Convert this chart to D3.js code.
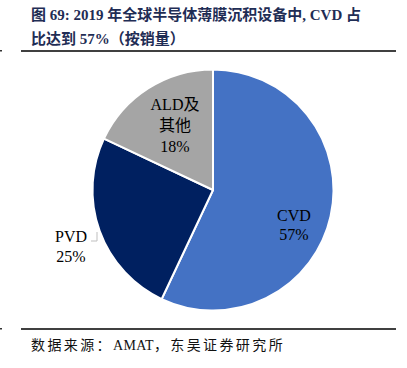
<!DOCTYPE html>
<html><head><meta charset="utf-8">
<script src="https://cdn.jsdelivr.net/npm/d3@7/dist/d3.min.js"></script>
<style>
html,body{margin:0;padding:0;background:#fff;}
svg{display:block;}
</style></head>
<body>
<svg id="c" width="407" height="368"></svg>
<script>
const categories = ["CVD", "PVD", "ALD及其他"];
const values = [57, 25, 18];
const colors = ["#4472C4", "#002060", "#A5A5A5"];
const labelLines = [["CVD", "57%"], ["PVD", "25%"], ["ALD及", "其他", "18%"]];
const titleLines = ["图 69: 2019 年全球半导体薄膜沉积设备中, CVD 占", "比达到 57%（按销量）"];
const sourceText = "数据来源：AMAT，东吴证券研究所";

const svg = d3.select("#c");
const font = "'Liberation Serif','Times New Roman','Noto Sans CJK SC',serif";

// title
const title = svg.append("g");
titleLines.forEach((t, i) => {
  title.append("text").attr("x", 31).attr("y", 20 + i * 24)
    .attr("font-family", font).attr("font-weight", "bold")
    .attr("font-size", 15).attr("fill", "#1F2D55").text(t);
});
// rules
svg.append("line").attr("x1", 21).attr("x2", 396).attr("y1", 51).attr("y2", 51)
  .attr("stroke", "#000").attr("stroke-width", 1.3);
svg.append("line").attr("x1", 21).attr("x2", 396).attr("y1", 329).attr("y2", 329)
  .attr("stroke", "#000").attr("stroke-width", 1.3);
svg.append("rect").attr("x", 0).attr("y", 50).attr("width", 2).attr("height", 1.5).attr("fill", "#333");
svg.append("rect").attr("x", 0).attr("y", 328).attr("width", 2).attr("height", 1.5).attr("fill", "#333");

// source: spacing only on CJK runs
const src = svg.append("text").attr("x", 31).attr("y", 350)
  .attr("font-family", font).attr("font-size", 14).attr("fill", "#111");
sourceText.match(/[A-Za-z0-9 ]+|[^A-Za-z0-9 ]+/g).forEach(part => {
  const latin = /^[A-Za-z0-9 ]+$/.test(part);
  src.append("tspan").attr("letter-spacing", latin ? 0.3 : 2.4).text(part);
});

// pie
const cx = 213, cy = 190, r = 120.5;
const pie = d3.pie().sort(null).value(d => d)(values);
const arc = d3.arc().innerRadius(0).outerRadius(r);
const g = svg.append("g").attr("transform", `translate(${cx},${cy})`);
g.selectAll("path").data(pie).join("path")
  .attr("d", arc).attr("fill", (d, i) => colors[i])
  .attr("stroke", "#fff").attr("stroke-width", 2).attr("stroke-linejoin", "round");

// labels
const labelPos = [[81, 31], [-142, 52], [-38, -80]];
const lineGap = [19, 20, 21];
pie.forEach((d, i) => {
  const lines = labelLines[i];
  const t = g.append("text").attr("font-family", font).attr("font-size", 16)
    .attr("fill", "#000").attr("text-anchor", "middle");
  lines.forEach((l, j) => {
    t.append("tspan").attr("x", labelPos[i][0]).attr("y", labelPos[i][1] + j * lineGap[i]).text(l);
  });
});
// leader remnant for PVD
g.append("path").attr("d", "M-116,42 L-116,51 L-122,51")
  .attr("fill", "none").attr("stroke", "#BFBFBF").attr("stroke-width", 1);
</script>
</body></html>
